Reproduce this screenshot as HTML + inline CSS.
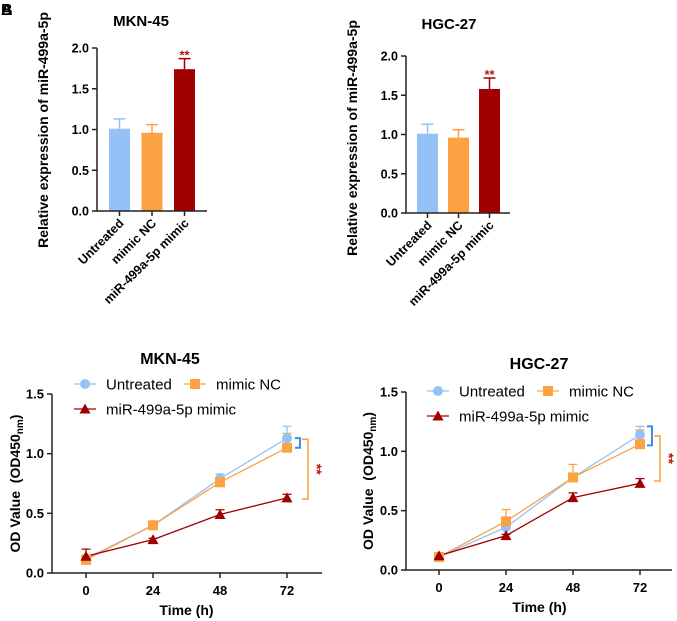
<!DOCTYPE html>
<html><head><meta charset="utf-8"><style>
html,body{margin:0;padding:0;background:#fff}
svg{display:block;font-family:"Liberation Sans",Arial,sans-serif}
</style></head><body>
<svg id="root" width="677" height="621" viewBox="0 0 677 621">
<text x="1" y="15" font-size="16" font-weight="bold">A</text>
<text x="1" y="15" font-size="16" font-weight="bold">B</text>
</svg>
<script>
const barCats=["Untreated","mimic NC","miR-499a-5p mimic"];
const barTicks=[0,0.5,1.0,1.5,2.0];
const mknBar=[1.01,0.96,1.74];
const mknBarErr=[0.12,0.10,0.13];
const hgcBar=[1.01,0.96,1.58];
const hgcBarErr=[0.12,0.10,0.14];
const timePts=[0,24,48,72];
const lineTicks=[0,0.5,1.0,1.5];
const mknUnt=[0.12,0.40,0.79,1.13];
const mknUntErr=[0.03,0.02,0.04,0.10];
const mknNC=[0.11,0.40,0.76,1.05];
const mknNCErr=[0.02,0.02,0.03,0.12];
const mknMim=[0.14,0.28,0.49,0.63];
const mknMimErr=[0.06,0.01,0.04,0.03];
const hgcUnt=[0.11,0.36,0.78,1.14];
const hgcUntErr=[0.02,0.02,0.03,0.07];
const hgcNC=[0.11,0.41,0.78,1.06];
const hgcNCErr=[0.02,0.10,0.11,0.12];
const hgcMim=[0.12,0.29,0.61,0.73];
const hgcMimErr=[0.01,0.01,0.04,0.04];

const NS="http://www.w3.org/2000/svg";
const root=document.getElementById('root');
function mk(tag,attrs,parent,txt){const e=document.createElementNS(NS,tag);for(const k in attrs)e.setAttribute(k,attrs[k]);if(txt!==undefined)e.textContent=txt;(parent||root).appendChild(e);return e;}
const COLS=["#94c2f6","#fba343","#a00000"];

function barChart(cfg){
  const g=mk('g',{});
  
  
  const y=v=>cfg.y0-(v/2)*(cfg.y0-cfg.y2);
  const t=mk('text',{x:cfg.tx,y:cfg.ty,'font-size':15,'font-weight':'bold','text-anchor':'middle'},g,cfg.title);
  
  
  const yl=mk('text',{transform:`translate(${cfg.ylx},${cfg.yly}) rotate(-90)`,'font-size':14,'font-weight':'bold','text-anchor':'middle'},g,"Relative expression of miR-499a-5p");
  
  
  cfg.vals.forEach((v,i)=>{
    const bx=cfg.bx0+i*cfg.bstep, w=21;
    const cx=bx+w/2;
    const top=y(v+cfg.errs[i]);
    const e=mk('path',{d:`M${cx},${y(v)}V${top}M${cx-6},${top}H${cx+6}`,stroke:COLS[i],'stroke-width':1.5,fill:'none'},g);
    
    
    const r=mk('rect',{x:bx,y:y(v),width:w,height:cfg.y0-y(v),fill:COLS[i]},g);
    
    
    mk('line',{x1:cx,x2:cx,y1:cfg.y0,y2:cfg.y0+5,stroke:'#222','stroke-width':1.5},g);
    const lb=mk('text',{transform:`translate(${cx+5},${cfg.y0+13}) rotate(-45)`,'font-size':12.5,'font-weight':'bold','text-anchor':'end'},g,barCats[i]);
    
    
    if(i===2){const s=mk('text',{x:cx,y:top+1,'font-size':13,'font-weight':'bold',fill:'#b01818','text-anchor':'middle'},g,'**');
      
      }
  });
  barTicks.forEach(v=>{
    mk('line',{x1:cfg.ax-5,x2:cfg.ax,y1:y(v),y2:y(v),stroke:'#222','stroke-width':1.5},g);
    const tl=mk('text',{x:cfg.ax-8,y:y(v)+4.5,'font-size':12.5,'font-weight':'bold','text-anchor':'end'},g,v.toFixed(1));
    
    
  });
  const ax=mk('path',{d:`M${cfg.ax},${cfg.y2}V${cfg.y0}H${cfg.axEnd}`,stroke:'#222','stroke-width':1.5,fill:'none'},g);
  
  
}
barChart({name:'bar-chart-mkn45',title:'MKN-45',tx:141,ty:26,ylx:48,yly:130,ax:97,y0:211,y2:48,axEnd:207,bx0:109,bstep:32.5,vals:mknBar,errs:mknBarErr});
barChart({name:'bar-chart-hgc27',title:'HGC-27',tx:449,ty:29,ylx:357,yly:138,ax:406,y0:213,y2:56,axEnd:510,bx0:417,bstep:31,vals:hgcBar,errs:hgcBarErr});

function marker(g,type,x,y,c){
  let m;
  if(type===0)m=mk('circle',{cx:x,cy:y,r:5,fill:c},g);
  else if(type===1)m=mk('rect',{x:x-5,y:y-5,width:10,height:10,fill:c},g);
  else m=mk('path',{d:`M${x},${y-5.5}L${x+5.5},${y+4.5}L${x-5.5},${y+4.5}Z`,fill:c},g);
  
  
}
function lineChart(cfg){
  const g=mk('g',{});
  
  
  const y=v=>cfg.y0-(v/1.5)*(cfg.y0-cfg.y15);
  const x=t=>cfg.x0+(t/72)*(cfg.x72-cfg.x0);
  const t=mk('text',{x:cfg.tx,y:cfg.ty,'font-size':16,'font-weight':'bold','text-anchor':'middle'},g,cfg.title);
  
  
  const yl=mk('text',{transform:`translate(${cfg.ylx},${(cfg.y0+cfg.y15)/2}) rotate(-90)`,'font-size':14,'font-weight':'bold','text-anchor':'middle'},g);
  
  
  mk('tspan',{},yl,'OD Value \u00a0(OD450');
  mk('tspan',{'font-size':10,dy:3},yl,'nm');
  mk('tspan',{dy:-3},yl,')');
  const xl=mk('text',{x:(cfg.x0+cfg.x72)/2,y:cfg.y0+42,'font-size':14,'font-weight':'bold','text-anchor':'middle'},g,'Time (h)');
  
  
  const series=[[cfg.u,cfg.ue],[cfg.n,cfg.ne],[cfg.m,cfg.me]];
  series.forEach((s,k)=>{
    const c=COLS[k];
    const p=mk('polyline',{points:timePts.map((t,i)=>x(t)+','+y(s[0][i])).join(' '),fill:'none',stroke:c,'stroke-width':1.3},g);
    
    
    timePts.forEach((t,i)=>{
      const v=s[0][i],e=s[1][i],px=x(t);
      mk('path',{d:`M${px},${y(v)}V${y(v+e)}M${px-4.5},${y(v+e)}H${px+4.5}`,stroke:c,'stroke-width':1.3,fill:'none'},g);
    });
  });
  series.forEach((s,k)=>timePts.forEach((t,i)=>marker(g,k,x(t),y(s[0][i]),COLS[k])));
  const L=[[cfg.lx,cfg.ly,0,'Untreated'],[cfg.lx+110,cfg.ly,1,'mimic NC'],[cfg.lx,cfg.ly+25,2,'miR-499a-5p mimic']];
  L.forEach(l=>{
    const lg=mk('g',{},g);
    
    
    mk('line',{x1:l[0],x2:l[0]+22,y1:l[1],y2:l[1],stroke:COLS[l[2]],'stroke-width':1.3},lg);
    marker(lg,l[2],l[0]+11,l[1],COLS[l[2]]);
    mk('text',{x:l[0]+32,y:l[1]+5.5,'font-size':15},lg,l[3]);
  });
  lineTicks.forEach(v=>{
    mk('line',{x1:cfg.ax-5,x2:cfg.ax,y1:y(v),y2:y(v),stroke:'#222','stroke-width':1.5},g);
    const tl=mk('text',{x:cfg.ax-8,y:y(v)+4.5,'font-size':13,'font-weight':'bold','text-anchor':'end'},g,v.toFixed(1));
    
    
  });
  timePts.forEach(t=>{
    mk('line',{x1:x(t),x2:x(t),y1:cfg.y0,y2:cfg.y0+5,stroke:'#222','stroke-width':1.5},g);
    const tl=mk('text',{x:x(t),y:cfg.y0+22,'font-size':13,'font-weight':'bold','text-anchor':'middle'},g,String(t));
    
    
  });
  const ax=mk('path',{d:`M${cfg.ax},${cfg.y15}V${cfg.y0}H${cfg.axEnd}`,stroke:'#222','stroke-width':1.5,fill:'none'},g);
  
  
  const bx=x(72)+cfg.bo;
  const b1=mk('path',{d:`M${bx},${y(cfg.b1[0])}H${bx+5}V${y(cfg.b1[1])}H${bx}`,stroke:'#3b8ef0','stroke-width':2,fill:'none'},g);
  
  
  const b2=mk('path',{d:`M${bx+7},${y(cfg.b2[0])}H${bx+13}V${y(cfg.b2[1])}H${bx+7}`,stroke:'#fba343','stroke-width':1.6,fill:'none'},g);
  
  
  const my=(y(cfg.b2[0])+y(cfg.b2[1]))/2;
  const s=mk('text',{transform:`translate(${bx+17},${my}) rotate(90)`,'font-size':14,'font-weight':'bold',fill:'#b01818','text-anchor':'middle'},g,'**');
  
  
}
lineChart({name:'line-chart-mkn45',title:'MKN-45',tx:170,ty:364,ylx:20,ax:52,y0:573,y15:394,x0:86,x72:287,axEnd:322,lx:74,ly:384,
  u:mknUnt,ue:mknUntErr,n:mknNC,ne:mknNCErr,m:mknMim,me:mknMimErr,bo:8,b1:[1.13,1.05],b2:[1.12,0.62]});
lineChart({name:'line-chart-hgc27',title:'HGC-27',tx:539,ty:369,ylx:373,ax:406,y0:570,y15:392,x0:439,x72:640,axEnd:672,lx:427,ly:391,
  u:hgcUnt,ue:hgcUntErr,n:hgcNC,ne:hgcNCErr,m:hgcMim,me:hgcMimErr,bo:7,b1:[1.21,1.05],b2:[1.13,0.75]});
</script>
</body></html>
